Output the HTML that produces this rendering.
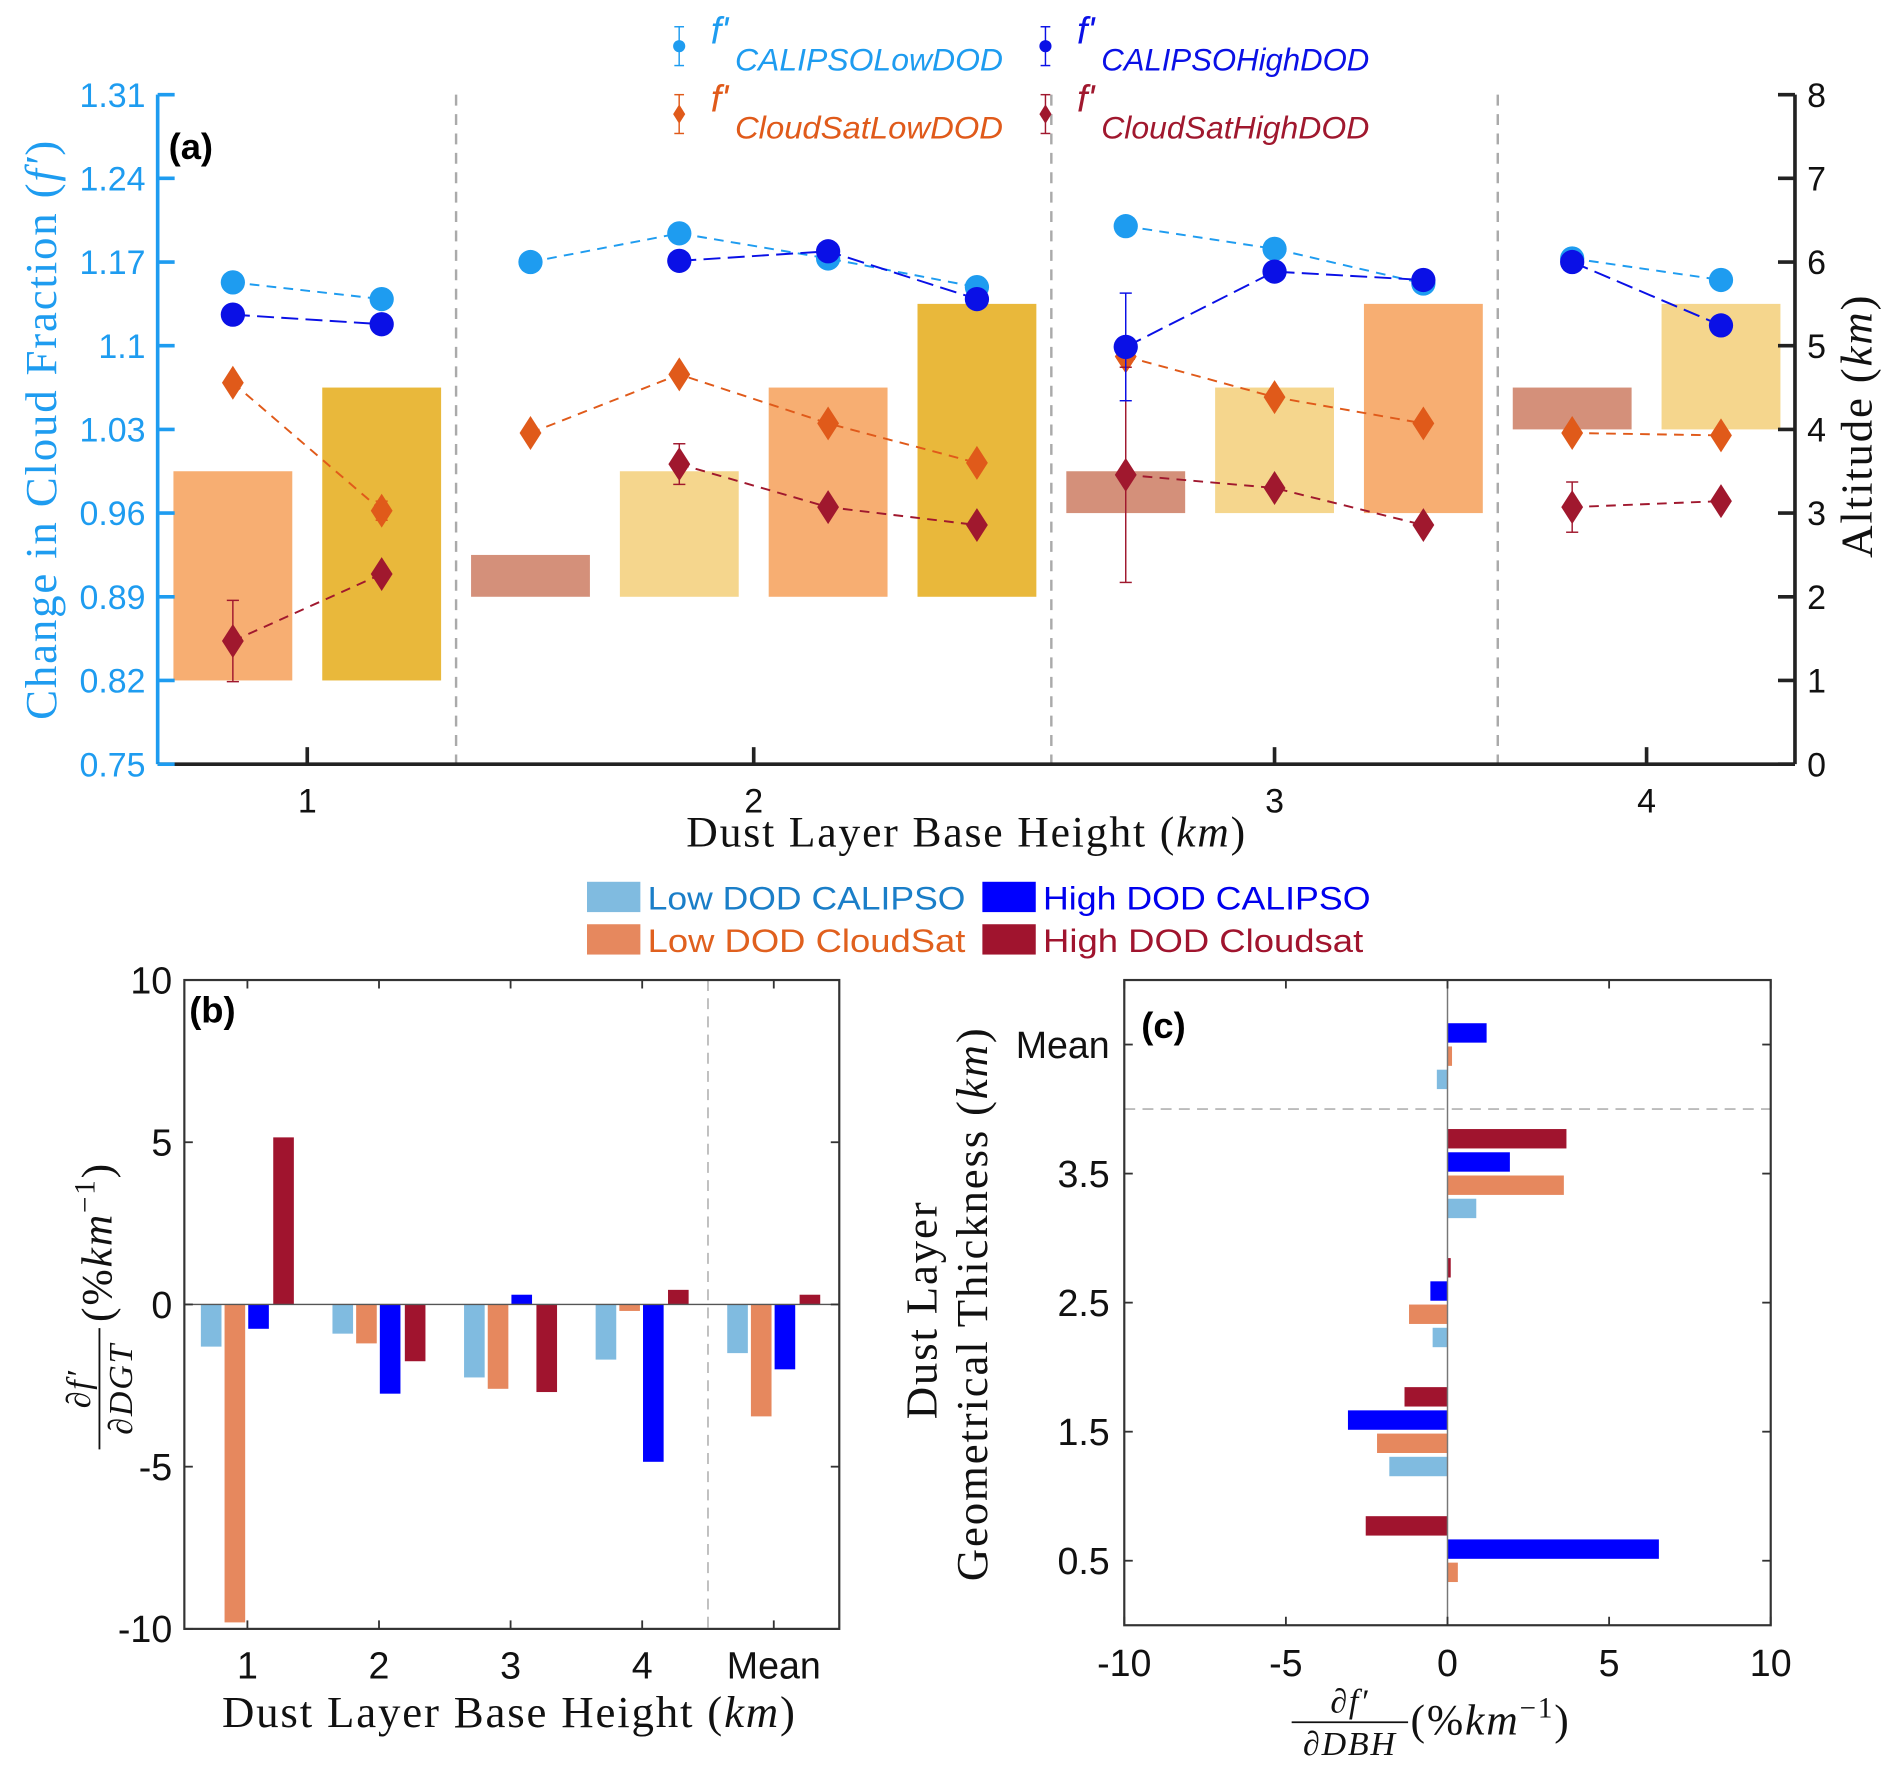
<!DOCTYPE html>
<html><head><meta charset="utf-8"><style>
html,body{margin:0;padding:0;background:#fff;}
svg{display:block;}
text{font-family:"Liberation Sans",sans-serif;}
.serif{font-family:"Liberation Serif",serif;letter-spacing:1.5px;}
</style></head><body>
<svg id="fig" width="1892" height="1766" viewBox="0 0 1560 1456" xmlns="http://www.w3.org/2000/svg">
<g id="pa"></g>
<g id="pb"></g>
<g id="pc"></g>
<g id="lg"></g>
</svg>
<script>
// ---- Panel (a) data ----
const aSlotGroups = [1,1,2,2,2,2,3,3,3,4,4];
const aXTicks = ["1","2","3","4"];
const aLeftTicks = ["0.75","0.82","0.89","0.96","1.03","1.1","1.17","1.24","1.31"];
const aRightTicks = ["0","1","2","3","4","5","6","7","8"];
const calipsoLow = [1.153,1.139,1.170,1.194,1.173,1.149,1.200,1.181,1.152,1.173,1.155];
const calipsoHigh = [1.126,1.118,null,1.171,1.179,1.139,1.099,1.162,1.155,1.170,1.117];
const calipsoHighErr = [0.008,0,0,0.006,0,0,0.045,0,0,0,0];
const cloudsatLow = [1.069,0.962,1.027,1.076,1.035,1.002,1.091,1.057,1.035,1.027,1.025];
const cloudsatLowErr = [0,0.008,0,0,0,0,0,0,0,0,0];
const cloudsatHigh = [0.853,0.909,null,1.001,0.965,0.950,0.992,0.981,0.950,0.965,0.970];
const cloudsatHighErr = [0.034,0,0,0.017,0,0,0.09,0,0,0.021,0];
const layerBase = [1,1,2,2,2,2,3,3,3,4,4];
const layerTop = [3.5,4.5,2.5,3.5,4.5,5.5,3.5,4.5,5.5,4.5,5.5];
const layerColor = ["#f7ae72","#e9b83b","#d4907a","#f5d68d","#f7ae72","#e9b83b","#d4907a","#f5d68d","#f7ae72","#d4907a","#f5d68d"];
// ---- Panel (b) data ----
const bCats = ["1","2","3","4","Mean"];
const bLowCal = [-1.3,-0.9,-2.25,-1.7,-1.5];
const bLowCS = [-9.8,-1.2,-2.6,-0.2,-3.45];
const bHighCal = [-0.75,-2.75,0.3,-4.85,-2.0];
const bHighCS = [5.15,-1.75,-2.7,0.45,0.3];
const bYTicks = [-10,-5,0,5,10];
// ---- Panel (c) data ----
const cCats = ["0.5","1.5","2.5","3.5","Mean"];
const cLowCal = [0,-1.8,-0.46,0.89,-0.33];
const cLowCS = [0.32,-2.18,-1.19,3.6,0.14];
const cHighCal = [6.54,-3.08,-0.53,1.93,1.21];
const cHighCS = [-2.53,-1.33,0.1,3.68,0.01];
const cXTicks = [-10,-5,0,5,10];

const NS="http://www.w3.org/2000/svg";
function mk(parent,tag,attrs,txt){const e=document.createElementNS(NS,tag);for(const k in attrs)e.setAttribute(k,attrs[k]);if(txt!==undefined)e.textContent=txt;parent.appendChild(e);return e;}

const C_LB="#1e9cf0", C_DB="#0a10e6", C_OR="#e05a1a", C_DR="#a0182e";
// ===== Panel A =====
const pa=document.getElementById('pa');
const aL=130,aR=1480,aT=78,aB=630;
const ax=i=>192+122.7*i;
const ayL=v=>aB-(v-0.75)/0.56*(aB-aT);
const ayR=h=>aB-h/8*(aB-aT);
layerBase.forEach((b,i)=>{
 const r=mk(pa,'rect',{x:ax(i)-49,y:ayR(layerTop[i]),width:98,height:ayR(b)-ayR(layerTop[i]),fill:layerColor[i]});
 
 
});
[1.5,5.5,8.5].forEach(s=>{const l=mk(pa,'line',{x1:ax(s),x2:ax(s),y1:aT,y2:aB,stroke:'#aaa','stroke-width':2,'stroke-dasharray':'9,7'});
 
 });
mk(pa,'line',{x1:aL,x2:aL,y1:aT,y2:aB,stroke:C_LB,'stroke-width':3});
mk(pa,'line',{x1:aR,x2:aR,y1:aT,y2:aB,stroke:'#222','stroke-width':3});
mk(pa,'line',{x1:aL,x2:aR,y1:aB,y2:aB,stroke:'#222','stroke-width':3});
aLeftTicks.forEach(t=>{const y=ayL(+t);mk(pa,'line',{x1:aL,x2:aL+14,y1:y,y2:y,stroke:C_LB,'stroke-width':3});
 const tx=mk(pa,'text',{x:aL-10,y:y+10,'text-anchor':'end','font-size':28,fill:C_LB},t);
 
 });
aRightTicks.forEach(t=>{const y=ayR(+t);mk(pa,'line',{x1:aR-14,x2:aR,y1:y,y2:y,stroke:'#222','stroke-width':3});
 const tx=mk(pa,'text',{x:aR+10,y:y+10,'font-size':28,fill:'#111'},t);
 
 });
aXTicks.forEach(g=>{const idx=aSlotGroups.map((v,i)=>v==+g?i:-1).filter(i=>i>=0);const xc=(ax(idx[0])+ax(idx[idx.length-1]))/2;
 mk(pa,'line',{x1:xc,x2:xc,y1:aB-14,y2:aB,stroke:'#222','stroke-width':3});
 const tx=mk(pa,'text',{x:xc,y:aB+40,'text-anchor':'middle','font-size':28,fill:'#111'},g);
 
 });
let t1=mk(pa,'text',{x:797,y:698,'text-anchor':'middle','font-size':36,fill:'#111',class:'serif'});
t1.innerHTML='Dust Layer Base Height (<tspan font-style="italic">km</tspan>)';


let t2=mk(pa,'text',{transform:'translate(46,354) rotate(-90)','text-anchor':'middle','font-size':37,fill:C_LB,class:'serif'});
t2.innerHTML='Change in Cloud Fraction (<tspan font-style="italic">f′</tspan>)';


let t3=mk(pa,'text',{transform:'translate(1543,351) rotate(-90)','text-anchor':'middle','font-size':37,fill:'#111',class:'serif'});
t3.innerHTML='Altitude (<tspan font-style="italic">km</tspan>)';


let pl=mk(pa,'text',{x:139,y:131,'font-size':30,'font-weight':'bold',fill:'#000'},'(a)');


function series(vals,errs,color,shape,dash,name){
 const groups=[[0,1],[2,3,4,5],[6,7,8],[9,10]];
 groups.forEach(g=>{const pts=g.filter(i=>vals[i]!==null).map(i=>ax(i)+','+ayL(vals[i]));
  const p=mk(pa,'polyline',{points:pts.join(' '),fill:'none',stroke:color,'stroke-width':1.6,'stroke-dasharray':dash});
  
  });
 vals.forEach((v,i)=>{if(v===null)return;const x=ax(i),y=ayL(v);
  if(errs&&errs[i]>0){const e1=ayL(v+errs[i]),e2=ayL(v-errs[i]);
   mk(pa,'line',{x1:x,x2:x,y1:e1,y2:e2,stroke:color,'stroke-width':1.2});
   mk(pa,'line',{x1:x-5,x2:x+5,y1:e1,y2:e1,stroke:color,'stroke-width':1.2});
   mk(pa,'line',{x1:x-5,x2:x+5,y1:e2,y2:e2,stroke:color,'stroke-width':1.2});}
  let m;
  if(shape==='c')m=mk(pa,'circle',{cx:x,cy:y,r:10,fill:color});
  else m=mk(pa,'polygon',{points:`${x},${y-14} ${x+9},${y} ${x},${y+14} ${x-9},${y}`,fill:color});
  
  });
}
series(cloudsatLow,cloudsatLowErr,C_OR,'d','8,6','cloudsat-low');
series(cloudsatHigh,cloudsatHighErr,C_DR,'d','8,6','cloudsat-high');
series(calipsoLow,null,C_LB,'c','8,6','calipso-low');
series(calipsoHigh,calipsoHighErr,C_DB,'c','14,6','calipso-high');

// ===== Legends =====
const lg=document.getElementById('lg');
function legA(x,y,color,shape,sub,name){
 const g=mk(lg,'g',{});
 
 
 mk(g,'line',{x1:x,x2:x,y1:y-16,y2:y+16,stroke:color,'stroke-width':1.2});
 mk(g,'line',{x1:x-4,x2:x+4,y1:y-16,y2:y-16,stroke:color,'stroke-width':1.2});
 mk(g,'line',{x1:x-4,x2:x+4,y1:y+16,y2:y+16,stroke:color,'stroke-width':1.2});
 if(shape==='c')mk(g,'circle',{cx:x,cy:y,r:5,fill:color});else mk(g,'polygon',{points:`${x},${y-8} ${x+5},${y} ${x},${y+8} ${x-5},${y}`,fill:color});
 mk(g,'text',{x:x+26,y:y-2,'font-size':31,'font-style':'italic',fill:color},"f'");
 mk(g,'text',{x:x+46,y:y+20,'font-size':26,'font-style':'italic',fill:color,textLength:221,lengthAdjust:'spacingAndGlyphs'},sub);
}
legA(560,38,C_LB,'c','CALIPSOLowDOD','legend-calipso-low');
legA(862,38,C_DB,'c','CALIPSOHighDOD','legend-calipso-high');
legA(560,94,C_OR,'d','CloudSatLowDOD','legend-cloudsat-low');
legA(862,94,C_DR,'d','CloudSatHighDOD','legend-cloudsat-high');
const BC={lc:"#80bbe0",ls:"#e6885e",hc:"#0000ff",hs:"#a0142e"};
function legB(x,y,color,tcolor,label,name,len){
 const g=mk(lg,'g',{});
 
 
 mk(g,'rect',{x:x,y:y,width:44,height:25,fill:color});
 mk(g,'text',{x:x+50,y:y+23,'font-size':27,fill:tcolor,textLength:len,lengthAdjust:'spacingAndGlyphs'},label);
}
legB(484,727,BC.lc,'#1a7ec8','Low DOD CALIPSO','legend-low-dod-calipso',262);
legB(810,727,BC.hc,'#0000ee','High DOD CALIPSO','legend-high-dod-calipso',270);
legB(484,762,BC.ls,'#e0601e','Low DOD CloudSat','legend-low-dod-cloudsat',262);
legB(810,762,BC.hs,'#a0142e','High DOD Cloudsat','legend-high-dod-cloudsat',264);

// ===== Panel B =====
const pb=document.getElementById('pb');
const bL=152,bR=692,bT=808,bB=1343;
const bx=c=>204+108.5*c;
const by=v=>bB-(v+10)/20*(bB-bT);
mk(pb,'line',{x1:bx(3.5),x2:bx(3.5),y1:bT,y2:bB,stroke:'#bbb','stroke-width':1.5,'stroke-dasharray':'9,6'});
const bSeries=[[bLowCal,BC.lc,-0.28,'low-cal'],[bLowCS,BC.ls,-0.1,'low-cs'],[bHighCal,BC.hc,0.08,'high-cal'],[bHighCS,BC.hs,0.27,'high-cs']];
bSeries.forEach(s=>s[0].forEach((v,i)=>{const x=bx(i+s[2]);const y0=by(0),y1=by(v);
 const r=mk(pb,'rect',{x:x-8,y:Math.min(y0,y1),width:17,height:Math.abs(y1-y0),fill:s[1]});
 
 }));
mk(pb,'line',{x1:bL,x2:bR,y1:by(0),y2:by(0),stroke:'#555','stroke-width':1.2});
mk(pb,'rect',{x:bL,y:bT,width:bR-bL,height:bB-bT,fill:'none',stroke:'#333','stroke-width':1.8});
bYTicks.forEach(v=>{const y=by(v);mk(pb,'line',{x1:bL,x2:bL+7,y1:y,y2:y,stroke:'#333','stroke-width':1.5});mk(pb,'line',{x1:bR-7,x2:bR,y1:y,y2:y,stroke:'#333','stroke-width':1.5});
 const tx=mk(pb,'text',{x:bL-10,y:y+11,'text-anchor':'end','font-size':31,fill:'#111'},String(v));
 
 });
bCats.forEach((c,i)=>{const x=bx(i);mk(pb,'line',{x1:x,x2:x,y1:bB-7,y2:bB,stroke:'#333','stroke-width':1.5});mk(pb,'line',{x1:x,x2:x,y1:bT,y2:bT+7,stroke:'#333','stroke-width':1.5});
 const tx=mk(pb,'text',{x:x,y:bB+41,'text-anchor':'middle','font-size':31,fill:'#111'},c);
 
 });
let pbl=mk(pb,'text',{x:156,y:843,'font-size':30,'font-weight':'bold',fill:'#000'},'(b)');


let bxt=mk(pb,'text',{x:420,y:1424,'text-anchor':'middle','font-size':37,fill:'#111',class:'serif'});
bxt.innerHTML='Dust Layer Base Height (<tspan font-style="italic">km</tspan>)';


let byt=mk(pb,'g',{transform:'translate(82,1070) rotate(-90)'});


mk(byt,'text',{x:-75,y:-8,'text-anchor':'middle','font-size':28,'font-style':'italic',class:'serif',fill:'#111'},'∂f′');
mk(byt,'line',{x1:-125,x2:-25,y1:0,y2:0,stroke:'#111','stroke-width':1.5});
mk(byt,'text',{x:-75,y:27,'text-anchor':'middle','font-size':28,'font-style':'italic',class:'serif',fill:'#111'},'∂DGT');
let byt2=mk(byt,'text',{x:-20,y:10,'font-size':36,class:'serif',fill:'#111'});
byt2.innerHTML='(%<tspan font-style="italic">km</tspan><tspan font-size="24" dy="-14">−1</tspan><tspan dy="14">)</tspan>';

// ===== Panel C =====
const pc=document.getElementById('pc');
const cL=927,cR=1460,cT=808,cB=1340;
const cx=v=>cL+(v+10)/20*(cR-cL);
const cy=c=>cB-(c+0.5)/5*(cB-cT);
mk(pc,'line',{x1:cL,x2:cR,y1:cy(3.5),y2:cy(3.5),stroke:'#bbb','stroke-width':1.5,'stroke-dasharray':'9,6'});
const cSeries=[[cLowCal,BC.lc,-0.27,'low-cal'],[cLowCS,BC.ls,-0.09,'low-cs'],[cHighCal,BC.hc,0.09,'high-cal'],[cHighCS,BC.hs,0.27,'high-cs']];
cSeries.forEach(s=>s[0].forEach((v,i)=>{const y=cy(i+s[2]);const x0=cx(0),x1=cx(v);
 const r=mk(pc,'rect',{x:Math.min(x0,x1),y:y-8,width:Math.abs(x1-x0),height:16,fill:s[1]});
 
 }));
mk(pc,'line',{x1:cx(0),x2:cx(0),y1:cT,y2:cB,stroke:'#777','stroke-width':1.2});
mk(pc,'rect',{x:cL,y:cT,width:cR-cL,height:cB-cT,fill:'none',stroke:'#333','stroke-width':1.8});
cXTicks.forEach(v=>{const x=cx(v);mk(pc,'line',{x1:x,x2:x,y1:cB-7,y2:cB,stroke:'#333','stroke-width':1.5});mk(pc,'line',{x1:x,x2:x,y1:cT,y2:cT+7,stroke:'#333','stroke-width':1.5});
 const tx=mk(pc,'text',{x:x,y:cB+42,'text-anchor':'middle','font-size':31,fill:'#111'},String(v));
 
 });
cCats.forEach((c,i)=>{const y=cy(i);mk(pc,'line',{x1:cL,x2:cL+7,y1:y,y2:y,stroke:'#333','stroke-width':1.5});mk(pc,'line',{x1:cR-7,x2:cR,y1:y,y2:y,stroke:'#333','stroke-width':1.5});
 const tx=mk(pc,'text',{x:cL-12,y:y+11,'text-anchor':'end','font-size':31,fill:'#111'},c);
 
 });
let pcl=mk(pc,'text',{x:941,y:856,'font-size':30,'font-weight':'bold',fill:'#000'},'(c)');


let cyt=mk(pc,'text',{transform:'translate(772,1080) rotate(-90)','text-anchor':'middle','font-size':37,fill:'#111',class:'serif'},'Dust Layer');


let cyt2=mk(pc,'text',{transform:'translate(814,1075) rotate(-90)','text-anchor':'middle','font-size':37,fill:'#111',class:'serif'});
cyt2.innerHTML='Geometrical Thickness (<tspan font-style="italic">km</tspan>)';


let cxt=mk(pc,'g',{transform:'translate(1113,1420)'});


mk(cxt,'text',{x:0,y:-8,'text-anchor':'middle','font-size':28,'font-style':'italic',class:'serif',fill:'#111'},'∂f′');
mk(cxt,'line',{x1:-48,x2:48,y1:0,y2:0,stroke:'#111','stroke-width':1.5});
mk(cxt,'text',{x:0,y:27,'text-anchor':'middle','font-size':28,'font-style':'italic',class:'serif',fill:'#111'},'∂DBH');
let cxt2=mk(cxt,'text',{x:50,y:10,'font-size':36,class:'serif',fill:'#111'});
cxt2.innerHTML='(%<tspan font-style="italic">km</tspan><tspan font-size="24" dy="-14">−1</tspan><tspan dy="14">)</tspan>';
</script>
</body></html>
